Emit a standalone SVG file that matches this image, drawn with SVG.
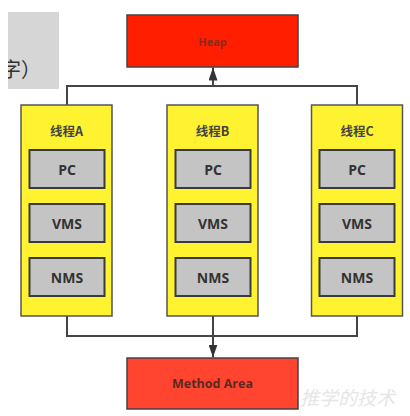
<svg xmlns="http://www.w3.org/2000/svg" width="410" height="416" viewBox="0 0 410 416">
<style>
.thread{fill:#fff230;stroke:#555;stroke-width:1.5}
.cell{fill:#c4c4c4;stroke:#3a3a3a;stroke-width:2}
.lbl{font-family:"Open Sans","Noto Sans CJK SC",sans-serif;font-weight:bold;font-size:14px;fill:#333;text-anchor:middle}
.tl{font-family:"Noto Sans CJK SC","Open Sans",sans-serif;font-weight:bold;font-size:12.5px;fill:#444;text-anchor:middle}
.conn{fill:none;stroke:#444;stroke-width:2}
</style>
<defs>
<marker id="arr" viewBox="0 0 13 9" refX="13" refY="4.5" markerWidth="13" markerHeight="9" orient="auto" markerUnits="userSpaceOnUse">
<path d="M0,0 L13,4.5 L0,9 z" fill="#333"/>
</marker>
<clipPath id="gclip"><rect x="8" y="12" width="51" height="77"/></clipPath>
</defs>
<rect width="410" height="416" fill="#fff"/>
<g id="note">
<rect x="8" y="12" width="51" height="77" fill="#d6d6d6"/>
<text x="1" y="77" clip-path="url(#gclip)" font-family="Noto Sans CJK SC,sans-serif" font-size="20" fill="#333">字）</text>
</g>
<g id="connectors">
<path class="conn" d="M67,105 V86 H357 V105"/>
<path class="conn" d="M213,86 V67.5" marker-end="url(#arr)"/>
<path class="conn" d="M67,316 V336 H357 V316"/>
<path class="conn" d="M213,316 V357.5" marker-end="url(#arr)"/>
</g>
<g id="heap">
<rect x="127" y="15" width="171" height="52" fill="#ff1e00" stroke="#444" stroke-width="1.5"/>
<text x="212.5" y="46" class="lbl" style="font-size:11px;fill:#8a2a1c">Heap</text>
</g>
<g id="threadA">
<rect class="thread" x="21" y="105" width="91" height="211"/>
<text class="tl" x="66.5" y="136">线程A</text>
<g id="A-PC"><rect class="cell" x="29.5" y="150" width="75" height="38"/><text class="lbl" x="67" y="174.5">PC</text></g>
<g id="A-VMS"><rect class="cell" x="29.5" y="204" width="75" height="38"/><text class="lbl" x="67" y="228.5">VMS</text></g>
<g id="A-NMS"><rect class="cell" x="29.5" y="258" width="75" height="38"/><text class="lbl" x="67" y="282.5">NMS</text></g>
</g>
<g id="threadB">
<rect class="thread" x="167" y="105" width="91" height="211"/>
<text class="tl" x="212.5" y="136">线程B</text>
<g id="B-PC"><rect class="cell" x="175.5" y="150" width="75" height="38"/><text class="lbl" x="213" y="174.5">PC</text></g>
<g id="B-VMS"><rect class="cell" x="175.5" y="204" width="75" height="38"/><text class="lbl" x="213" y="228.5">VMS</text></g>
<g id="B-NMS"><rect class="cell" x="175.5" y="258" width="75" height="38"/><text class="lbl" x="213" y="282.5">NMS</text></g>
</g>
<g id="threadC">
<rect class="thread" x="311.5" y="105" width="91" height="211"/>
<text class="tl" x="357" y="136">线程C</text>
<g id="C-PC"><rect class="cell" x="319.5" y="150" width="75" height="38"/><text class="lbl" x="357" y="174.5">PC</text></g>
<g id="C-VMS"><rect class="cell" x="319.5" y="204" width="75" height="38"/><text class="lbl" x="357" y="228.5">VMS</text></g>
<g id="C-NMS"><rect class="cell" x="319.5" y="258" width="75" height="38"/><text class="lbl" x="357" y="282.5">NMS</text></g>
</g>
<g id="methodArea">
<rect x="127" y="358" width="171" height="51" fill="#ff4530" stroke="#444" stroke-width="1.5"/>
<text x="212.5" y="388" class="lbl" style="font-size:12.5px;fill:#5a2a20">Method Area</text>
</g>
<text x="300" y="405" font-family="Noto Sans CJK SC,sans-serif" font-size="19" fill="#e6e6e6" font-style="italic">推学的技术</text>
</svg>
